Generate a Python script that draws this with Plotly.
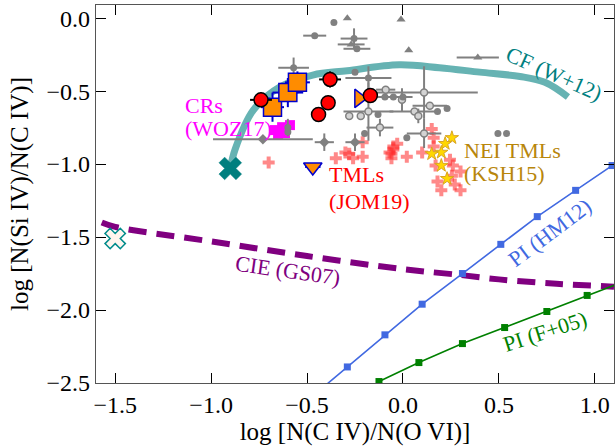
import plotly.graph_objects as go

# ---------------- data ----------------
# model curves
cf_x = [-0.90, -0.875, -0.78, -0.64, -0.47, -0.29, -0.02, 0.19, 0.40, 0.61, 0.74, 0.86]
cf_y = [-1.03, -0.90, -0.63, -0.47, -0.39, -0.36, -0.32, -0.34, -0.37, -0.40, -0.44, -0.54]

cie_x = [-1.57, -1.5, -1.0, -0.5, 0.0, 0.3, 0.5, 0.8, 1.1]
cie_y = [-1.40, -1.43, -1.53, -1.63, -1.72, -1.76, -1.79, -1.82, -1.84]

hm12_x = [-0.48, -0.29, -0.094, 0.10, 0.31, 0.51, 0.70, 0.90, 1.09]
hm12_y = [-2.60, -2.39, -2.17, -1.96, -1.75, -1.55, -1.36, -1.18, -1.01]

f05_x = [-0.125, 0.083, 0.31, 0.53, 0.75, 0.96, 1.18]
f05_y = [-2.49, -2.36, -2.23, -2.12, -2.01, -1.90, -1.79]

# observations (gray)
gc_x = [-0.36, -0.46, -0.255, -0.24, -0.57, -0.25, -0.18, -0.094, -0.05, 0.0, 0.23, 0.18, -0.13, -0.20, 0.02, 0.495, 0.54, -0.60, -0.60]
gc_y = [-0.03, -0.12, -0.14, -0.21, -0.34, -0.37, -0.41, -0.54, -0.54, -0.54, -0.62, -0.64, -0.66, -0.79, -0.82, -0.79, -0.79, -0.75, -0.78]
gc_xe = [0, 0.06, 0.07, 0.07, 0.08, 0, 0.12, 0, 0.10, 0, 0, 0, 0, 0, 0, 0, 0, 0, 0]
gc_ye = [0, 0, 0.07, 0, 0.07, 0, 0.08, 0, 0, 0, 0, 0, 0, 0, 0, 0, 0, 0.06, 0]

gt_x = [-0.29, -0.01, -0.27, 0.03, 0.39]
gt_y = [0.0, -0.01, -0.18, -0.22, -0.27]
gt_xe = [0, 0, 0.07, 0, 0.11]

gl_x = [-0.09, 0.11, -0.005, 0.14, 0.06, 0.08, -0.28, -0.22, -0.18, -0.12, 0.11]
gl_y = [-0.49, -0.51, -0.56, -0.60, -0.64, -0.67, -0.67, -0.67, -0.64, -0.75, -0.79]
gl_xe = [0.05, 0.28, 0, 0.09, 0.13, 0, 0, 0, 0.13, 0.07, 0.09]
gl_ye = [0, 0.18, 0.08, 0, 0, 0.05, 0, 0, 0.20, 0.06, 0.10]

gd_x = [-0.73, -0.41, -0.25]
gd_y = [-0.83, -0.85, -0.85]
gd_xe = [0.26, 0.05, 0.05]
gd_ye = [0, 0.06, 0.06]

# red circles
rc_x = [-0.74, -0.38, -0.39, -0.44, -0.17]
rc_y = [-0.56, -0.42, -0.58, -0.66, -0.53]
rc_xe = [0.057, 0.057, 0, 0, 0]
rc_ye = [0.05, 0.055, 0, 0, 0]

# orange squares
os_x = [-0.68, -0.60, -0.55]
os_y = [-0.61, -0.51, -0.44]
os_xe = [0.06, 0.08, 0.065]
os_ye = [0.10, 0.10, 0.075]

# orange triangles
otr_x = [-0.23]
otr_y = [-0.55]
otd_x = [-0.47]
otd_y = [-1.02]

# CRs (WOZ17)
cr_x = [-0.667, -0.63, -0.589, -0.651, -0.615]
cr_y = [-0.767, -0.747, -0.733, -0.80, -0.788]

# TMLs (JOM19)
tm_x = [-0.70, -0.35, -0.30, -0.26, -0.21, -0.21, -0.28, -0.07, -0.05, -0.03, -0.06, -0.05, -0.06,
        0.02, 0.10, 0.15, 0.16, 0.16, 0.245, 0.26, 0.30, 0.255, 0.27, 0.18, 0.20, 0.30, 0.17]
tm_y = [-0.99, -0.96, -0.92, -0.96, -0.95, -0.85, -0.93, -0.92, -0.88, -0.86, -0.96, -0.90, -0.93,
        -0.95, -0.92, -0.76, -0.82, -0.88, -0.97, -1.01, -1.05, -1.08, -1.14, -1.12, -1.18, -1.18, -1.01]

# NEI TMLs (KSH15)
nei_x = [0.255, 0.22, 0.20, 0.15, 0.20, 0.23]
nei_y = [-0.82, -0.86, -0.92, -0.93, -1.01, -1.10]

# special points
cf_pt_x = [-0.90]
cf_pt_y = [-1.03]
cie_pt_x = [-1.50]
cie_pt_y = [-1.51]

xticks = [-1.5, -1.0, -0.5, 0.0, 0.5, 1.0]
yticks = [-2.5, -2.0, -1.5, -1.0, -0.5, 0.0]


def fmt(v):
    s = f"{abs(v):.1f}"
    return ("\u2212" + s) if v < 0 else s


FONT = "Liberation Serif"
GRAY = "#808080"

fig = go.Figure()

# CF curve
fig.add_trace(go.Scatter(x=cf_x, y=cf_y, mode="lines",
                         line=dict(color="rgba(0,128,128,0.6)", width=7, shape="spline")))
# CIE
fig.add_trace(go.Scatter(x=cie_x, y=cie_y, mode="lines",
                         line=dict(color="#800080", width=6, dash="18px,10px", shape="spline")))
# PI HM12
fig.add_trace(go.Scatter(x=hm12_x, y=hm12_y, mode="lines+markers",
                         line=dict(color="#4169E1", width=1.6),
                         marker=dict(symbol="square", size=7, color="#4169E1")))
# PI F+05
fig.add_trace(go.Scatter(x=f05_x, y=f05_y, mode="lines+markers",
                         line=dict(color="#008000", width=1.6),
                         marker=dict(symbol="square", size=7, color="#008000")))

# CRs
fig.add_trace(go.Scatter(x=cr_x, y=cr_y, mode="markers",
                         marker=dict(symbol="square", size=10, color="#FF00FF")))

# TMLs JOM19
fig.add_trace(go.Scatter(x=tm_x, y=tm_y, mode="markers",
                         marker=dict(symbol="cross", size=10, color="rgba(255,40,40,0.55)")))

# gray observations
eb = dict(color=GRAY, thickness=2, width=0)
fig.add_trace(go.Scatter(x=gd_x, y=gd_y, mode="markers",
                         error_x=dict(array=gd_xe, **eb), error_y=dict(array=gd_ye, **eb),
                         marker=dict(symbol="diamond", size=8, color=GRAY)))
fig.add_trace(go.Scatter(x=gl_x, y=gl_y, mode="markers",
                         error_x=dict(array=gl_xe, **eb), error_y=dict(array=gl_ye, **eb),
                         marker=dict(symbol="circle", size=7, color="#D3D3D3",
                                     line=dict(color=GRAY, width=1.5))))
fig.add_trace(go.Scatter(x=gc_x, y=gc_y, mode="markers",
                         error_x=dict(array=gc_xe, **eb), error_y=dict(array=gc_ye, **eb),
                         marker=dict(symbol="circle", size=7, color=GRAY)))
fig.add_trace(go.Scatter(x=gt_x, y=gt_y, mode="markers",
                         error_x=dict(array=gt_xe, **eb),
                         marker=dict(symbol="triangle-up", size=8, color=GRAY)))

# NEI stars
fig.add_trace(go.Scatter(x=nei_x, y=nei_y, mode="markers",
                         marker=dict(symbol="star", size=10, color="#FFD700",
                                     line=dict(color="#DAA520", width=1))))

# orange squares
ebb = dict(color="#0000CD", thickness=2, width=0)
fig.add_trace(go.Scatter(x=os_x, y=os_y, mode="markers",
                         error_x=dict(array=os_xe, **ebb), error_y=dict(array=os_ye, **ebb),
                         marker=dict(symbol="square", size=18, color="#FF8C00",
                                     line=dict(color="#0000CD", width=1.5))))
fig.add_trace(go.Scatter(x=otr_x, y=otr_y, mode="markers",
                         marker=dict(symbol="triangle-right", size=16, color="#FF8C00",
                                     line=dict(color="#0000CD", width=1.5))))
fig.add_trace(go.Scatter(x=otd_x, y=otd_y, mode="markers",
                         error_x=dict(array=[0.04], **ebb),
                         marker=dict(symbol="triangle-down", size=16, color="#FF8C00",
                                     line=dict(color="#0000CD", width=1.5))))

# red circles
ebk = dict(color="black", thickness=2, width=0)
fig.add_trace(go.Scatter(x=rc_x, y=rc_y, mode="markers",
                         error_x=dict(array=rc_xe, **ebk), error_y=dict(array=rc_ye, **ebk),
                         marker=dict(symbol="circle", size=14, color="#FF0000",
                                     line=dict(color="black", width=1.5))))

# special X markers
fig.add_trace(go.Scatter(x=cf_pt_x, y=cf_pt_y, mode="markers",
                         marker=dict(symbol="x", size=20, color="#007F7F",
                                     line=dict(color="#007F7F", width=0.5))))
fig.add_trace(go.Scatter(x=cie_pt_x, y=cie_pt_y, mode="markers",
                         marker=dict(symbol="x", size=18, color="#FFF5EE",
                                     line=dict(color="#008B8B", width=1.5))))

ann = []
def A(x, y, t, color, angle=0, xanchor="left"):
    ann.append(dict(x=x, y=y, text=t, showarrow=False, textangle=angle,
                    xanchor=xanchor, yanchor="middle",
                    font=dict(family=FONT, size=22, color=color)))

A(-1.146, -0.60, "CRs", "#FF00FF")
A(-1.146, -0.755, "(WOZ17)", "#FF00FF")
A(-0.396, -1.07, "TMLs", "#FF0000")
A(-0.396, -1.255, "(JOM19)", "#FF0000")
A(0.307, -0.905, "NEI TMLs", "#B8860B")
A(0.307, -1.065, "(KSH15)", "#B8860B")
A(0.785, -0.38, "CF (W+12)", "#008080", 24, "center")
A(0.766, -1.466, "PI (HM12)", "#4169E1", -37, "center")
A(0.74, -2.15, "PI (F+05)", "#008000", -18, "center")
A(-0.60, -1.726, "CIE (GS07)", "#800080", 8, "center")

axis_common = dict(showline=True, linecolor="#555555", linewidth=1.2, mirror="ticks",
                   ticks="inside", ticklen=10, tickwidth=1, tickcolor="black",
                   showgrid=False, zeroline=False,
                   tickfont=dict(family=FONT, size=24, color="black"))

fig.update_layout(
    width=615, height=447,
    margin=dict(l=96, r=1, t=5, b=64),
    plot_bgcolor="white", paper_bgcolor="white",
    showlegend=False,
    annotations=ann,
    xaxis=dict(range=[-1.6, 1.1], tickvals=xticks, ticktext=[fmt(v) for v in xticks],
               title=dict(text="log [N(C IV)/N(O VI)]", font=dict(family=FONT, size=25, color="black"),
                          standoff=4),
               **axis_common),
    yaxis=dict(range=[-2.5, 0.09], tickvals=yticks, ticktext=[fmt(v) for v in yticks],
               title=dict(text="log [N(Si IV)/N(C IV)]", font=dict(family=FONT, size=25, color="black"),
                          standoff=10),
               **axis_common),
)

fig.write_html("out.html")
